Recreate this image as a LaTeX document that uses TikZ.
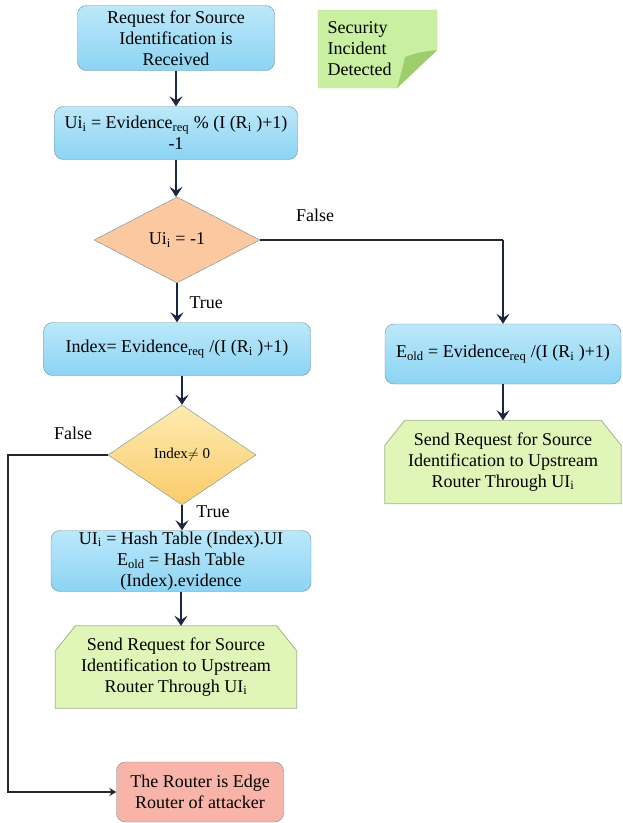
\documentclass[tikz,border=0pt]{standalone}
\usepackage{fontspec}
\setmainfont{Liberation Serif}
\newfontfamily\tms{Liberation Serif}
\usepackage{xcolor}
\usetikzlibrary{shapes.geometric,arrows.meta,backgrounds}

\definecolor{bluetop}{HTML}{BCE8FA}
\definecolor{bluebot}{HTML}{8CD4F3}
\definecolor{boxline}{HTML}{6E8E9C}
\definecolor{peach}{HTML}{FBC8A0}
\definecolor{yeltop}{HTML}{FDEBB0}
\definecolor{yelbot}{HTML}{FBCB6A}
\definecolor{sendgreen}{HTML}{E0F6B8}
\definecolor{sendline}{HTML}{A4B488}
\definecolor{notegreen}{HTML}{C8F0A0}
\definecolor{notefold}{HTML}{9ECE6C}
\definecolor{edgered}{HTML}{F8B4A8}
\definecolor{arrowc}{HTML}{1C2541}

\tikzset{
  every node/.style={font=\tms\fontsize{18}{21}\selectfont},
  procbox/.style={draw=boxline,rectangle,rounded corners=9pt,top color=bluetop,bottom color=bluebot,align=center,inner sep=1pt},
  decide/.style={draw=boxline,diamond,align=center,inner sep=0pt},
  sendbox/.style={rectangle,align=center,inner sep=1pt},
  sendfill/.style={draw=sendline,fill=sendgreen,line width=0.8pt},
  flow/.style={line width=2.4pt,draw=arrowc,-{Stealth[length=10pt,width=13pt,inset=4pt]}},
  branch/.style={line width=2pt,draw=black!85}
}

\begin{document}
\begin{tikzpicture}[x=1pt,y=-1pt]
\useasboundingbox (0,0) rectangle (622,823);

% note in the corner
\filldraw[fill=notegreen,draw=notegreen!70!black!60] (318,10) -- (437,10) -- (437,50) -- (397,88) -- (318,88) -- cycle;
\fill[notefold] (437,50) .. controls (420,52) .. (405,57) .. controls (402,70) .. (397,88) -- cycle;
\node[anchor=west,align=left] (note) at (324,49) {Security\\Incident\\Detected};

% left branch
\node[procbox,minimum width=197pt,minimum height=65pt] (req) at (176,38) {Request for Source\\Identification is\\Received};
\node[procbox,minimum width=243pt,minimum height=53pt] (ui) at (176,133) {Ui\textsubscript{i} = Evidence\textsubscript{req} \% (I (R\textsubscript{i} )+1)\\-1};
\node[decide,fill=peach,minimum width=166pt,minimum height=86pt] (d1) at (177,240) {Ui\textsubscript{i} = -1};
\node[procbox,minimum width=267pt,minimum height=53pt] (idx) at (177,349) {Index= Evidence\textsubscript{req} /(I (R\textsubscript{i} )+1)};
\node[decide,top color=yeltop,bottom color=yelbot,minimum width=148pt,minimum height=100pt,font=\tms\fontsize{15}{18}\selectfont] (d2) at (182,455) {Index$\neq$ 0};
\node[procbox,minimum width=260pt,minimum height=61pt] (hash) at (181,561) {UI\textsubscript{i} = Hash Table (Index).UI\\E\textsubscript{old} = Hash Table\\(Index).evidence};
\node[sendbox,minimum width=241pt,minimum height=82pt] (send2) at (176,667) {Send Request for Source\\Identification to Upstream\\Router Through UI\textsubscript{i}};
\node[draw=boxline,fill=edgered,rounded corners=9pt,align=center,minimum width=167pt,minimum height=60pt] (edge) at (200,792) {The Router is Edge\\Router of attacker};

% right branch
\node[procbox,minimum width=236pt,minimum height=60pt] (eold) at (503,354) {E\textsubscript{old} = Evidence\textsubscript{req} /(I (R\textsubscript{i} )+1)};
\node[sendbox,minimum width=236pt,minimum height=83pt] (send1) at (503,462) {Send Request for Source\\Identification to Upstream\\Router Through UI\textsubscript{i}};

% chamfered green boxes
\begin{pgfonlayer}{background}
\foreach \s in {send1,send2}
  \filldraw[sendfill] (\s.south west) -- ([yshift=-25pt]\s.north west) -- ([xshift=20pt]\s.north west)
    -- ([xshift=-20pt]\s.north east) -- ([yshift=-25pt]\s.north east) -- (\s.south east) -- cycle;
\end{pgfonlayer}

\coordinate (lft) at (8,455);

\draw[flow] (req) -- (ui);
\draw[flow] (ui.south) -- (ui.south |- d1.north);
\draw[flow] (d1) -- (idx) node[pos=0.5,right=8pt] {True};
\draw[branch,-] (d1.east) -- (d1.east -| eold.north);
\draw[flow] (d1.east -| eold.north) -- (eold.north);
\node at (315,215) (f1) {False};
\draw[flow] (eold) -- (send1);
\draw[flow] (idx.south -| d2.north) -- (d2.north);
\draw[flow] (d2.south) -- (d2.south |- hash.north);
\node at (213,512) (t2) {True};
\draw[flow] (hash.south) -- (hash.south |- send2.north);
\draw[branch,-{Stealth[length=7pt,width=8pt]}] (d2.west) -- (lft) |- (edge.west);
\node at (73,433) (f2) {False};
\end{tikzpicture}
\end{document}
